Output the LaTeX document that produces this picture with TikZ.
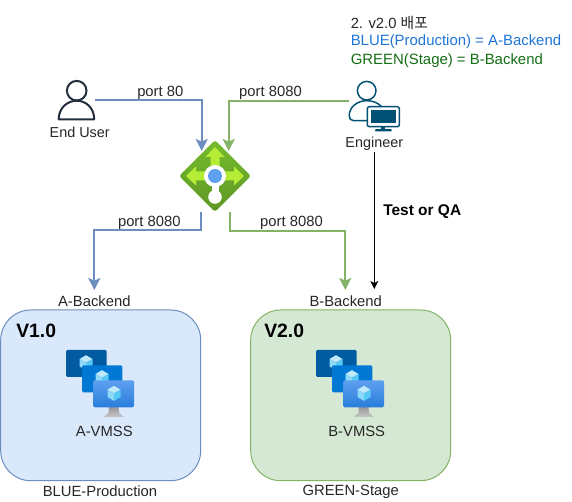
\documentclass[tikz,border=0pt]{standalone}
\usepackage{amsmath}
\usepackage{fontspec}
\setmainfont{Liberation Sans}
\newfontfamily\krfont{Noto Sans CJK KR}
\usepackage{tikz}
\usetikzlibrary{arrows.meta,shapes.geometric}

\definecolor{bluelinecol}{RGB}{108,142,191}
\definecolor{greenlinecol}{RGB}{130,179,102}
\definecolor{bluefillcol}{RGB}{218,232,252}
\definecolor{greenfillcol}{RGB}{213,232,212}
\definecolor{usercol}{RGB}{35,47,62}
\definecolor{engcol}{RGB}{0,80,115}
\definecolor{notebluecol}{RGB}{30,117,215}
\definecolor{notegreencol}{RGB}{20,110,20}

\tikzset{
    every pic/.style={yscale=-1},
    lbl/.style={inner sep=0.75pt,text=black!85,font=\fontsize{11.1}{13}\selectfont},
    vlbl/.style={anchor=west,inner sep=0pt,text=black,font=\fontsize{14.5}{16}\selectfont\bfseries},
    bluelink/.style={draw=bluelinecol,line width=1.6pt,-{Stealth[length=9pt,width=9pt,inset=2pt]}},
    greenlink/.style={draw=greenlinecol,line width=1.6pt,-{Stealth[length=9pt,width=9pt,inset=2pt]}},
    testlink/.style={draw=black,line width=0.75pt,-{Stealth[length=6pt,width=6pt,inset=1.5pt]}},
    bluebox/.style={draw=bluelinecol,fill=bluefillcol,line width=0.75pt,rounded corners=22.5pt},
    greenbox/.style={draw=greenlinecol,fill=greenfillcol,line width=0.75pt,rounded corners=22.5pt},
    cube/.pic={
        \fill [cyan!25!white] (0,-7.5) -- (6.5,-3.7) -- (0,0) -- (-6.5,-3.7) -- cycle;
        \fill [cyan!45!white] (-6.5,-3.7) -- (0,0) -- (0,7.5) -- (-6.5,3.7) -- cycle;
        \fill [cyan!65!white] (6.5,-3.7) -- (0,0) -- (0,7.5) -- (6.5,3.7) -- cycle;
    },
    vmss/.pic={
        \fill [rounded corners=1pt,fill={rgb,255:red,0;green,91;blue,161}] (0,0) rectangle (40.7,27);
        \pic at (20,12.7) {cube};
        \fill [rounded corners=1pt,fill={rgb,255:red,0;green,120;blue,212}] (16,15.3) rectangle (56.3,42.3);
        \pic at (36,27.7) {cube};
        \shade [top color=gray!85,bottom color=gray!45] (42.5,56) -- (52.5,56) -- (53,63) -- (58,67) -- (37.5,67) -- (42.5,63) -- cycle;
        \shade [rounded corners=1pt,top color={rgb,255:red,94;green,160;blue,239},bottom color={rgb,255:red,40;green,125;blue,220}] (27.3,30.3) rectangle (68,57.3);
        \pic at (48,43.3) {cube};
    },
    enduserpic/.pic={
        \draw [usercol,line width=1.5pt] (0,0) circle [radius=9.8];
        \draw [usercol,line width=1.5pt,line join=round] (-18,28.6) .. controls (-18,17) and (-9,10) .. (0,10) .. controls (9,10) and (17.5,17) .. (17.5,28.6) -- cycle;
    },
    engineerpic/.pic={
        \draw [engcol,line width=1.1pt] (0,0) circle [radius=9.3];
        \draw [engcol,line width=1.1pt] (1,30) -- (-13,30) .. controls (-16,30) and (-17.5,28) .. (-17.5,25) .. controls (-17.5,16) and (-9,10) .. (0,10) .. controls (6,10) and (11,12) .. (15,16);
        \fill [engcol] (14.6,35) rectangle (18.6,39);
        \fill [engcol,rounded corners=0.5pt] (8.5,38.5) rectangle (25,40.7);
        \draw [engcol,fill=white,line width=1.1pt,rounded corners=1.5pt] (0.6,16) rectangle (32.6,36);
        \fill [engcol] (4,19.5) rectangle (29.2,32.5);
    },
    gatewaypic/.pic={
        % the three arrows
        \foreach \ang in {0,180,270} {
            \fill [rotate=\ang,fill={rgb,255:red,180;green,236;blue,54}] (10,-4.5) -- (19,-4.5) -- (19,-9.5) -- (29,0) -- (19,9.5) -- (19,4.5) -- (10,4.5) -- cycle;
        }
        \fill [white] (0,0) circle [radius=11];
        \fill [white] (0,21) circle [radius=6.8];
        \fill [white] (-3.5,8) rectangle (3.5,18);
        \fill [fill={rgb,255:red,94;green,160;blue,239}] (0,0) circle [radius=7];
    }
}

\begin{document}
\begin{tikzpicture}[x=0.75pt,y=0.75pt,yscale=-1,xscale=1]
        \useasboundingbox (0,0) rectangle (572,502);

        % Boxes
        \draw [bluebox] (0.7,310) rectangle (200.7,480.7);
        \draw [greenbox] (250.7,310) rectangle (450.7,480.7);

        % Gateway
        \node (gw) at (215,176) [diamond,aspect=1,minimum width=54pt,minimum height=54pt,inner sep=0pt,rounded corners=2pt,top color={rgb,255:red,118;green,188;blue,45},bottom color={rgb,255:red,94;green,150;blue,36}] {};
        \pic at (gw.center) {gatewaypic};

        % Icons
        \pic at (76.7,90.7) {enduserpic};
        \pic at (366.7,90.7) {engineerpic};
        \pic at (66,350) {vmss};
        \pic at (316,350) {vmss};

        % Free ends of the connectors
        \coordinate (userout) at (95,100);
        \coordinate (gwinblue) at (201.7,151);
        \coordinate (engout) at (349.3,101);
        \coordinate (gwingreen) at (228.7,151);
        \coordinate (gwoutblue) at (200.7,212);
        \coordinate (gwoutgreen) at (230.3,212);
        \coordinate (atip) at (94.3,290);
        \coordinate (btip) at (345.3,290);
        \coordinate (engdown) at (374.3,152);
        \coordinate (testtip) at (374.3,289);

        % Connectors
        \draw [bluelink] (userout) -| (gwinblue);
        \draw [greenlink] (engout) -| (gwingreen);
        \draw [bluelink] (gwoutblue) -- ++(0,18.3) -| (atip);
        \draw [greenlink] (gwoutgreen) -- ++(0,19) -| (btip);
        \draw [testlink] (engdown) -- (testtip);

        % Text Node
        \node (lblenduser) at (79.7,132) [lbl,font=\fontsize{10.8}{13}\selectfont] {End User};
        \node (lblengineer) at (374.3,143.5) [lbl,font=\fontsize{10.8}{13}\selectfont] {Engineer};
        \node (lblport) at (160.3,92.5) [lbl] {port 80};
        \node (lblportgreen) at (270.5,92.5) [lbl] {port 8080};
        \node (lblportblue) at (149.3,222.5) [lbl] {port 8080};
        \node (lblportb) at (291.5,222.5) [lbl] {port 8080};
        \node (lbltest) at (382,212) [lbl,anchor=west,text=black,font=\fontsize{11.6}{13}\selectfont\bfseries] {Test or QA};
        \node (lblaback) at (94.3,301) [lbl] {A-Backend};
        \node (lblbback) at (345.7,301) [lbl] {B-Backend};
        \node (lblblue) at (100,491) [lbl] {BLUE-Production};
        \node (lblgreen) at (350.7,492) [lbl] {GREEN-Stage};
        \node (lblavmss) at (104.3,431) [lbl] {A-VMSS};
        \node (lblbvmss) at (356.7,431) [lbl] {B-VMSS};
        \node (lblvone) at (16,331) [vlbl] {V1.0};
        \node (lblvtwo) at (264,331) [vlbl] {V2.0};
        \node (lblstep) at (349.5,23) [lbl,anchor=west] {2. v2.0 {\krfont 배포}};
        \node (lblnoteblue) at (349.5,42) [lbl,anchor=west,text=notebluecol,font=\fontsize{11.2}{13}\selectfont] {BLUE(Production) = A-Backend};
        \node (lblnotegreen) at (349.5,60.5) [lbl,anchor=west,text=notegreencol,font=\fontsize{11.2}{13}\selectfont] {GREEN(Stage) = B-Backend};
\end{tikzpicture}
\end{document}
